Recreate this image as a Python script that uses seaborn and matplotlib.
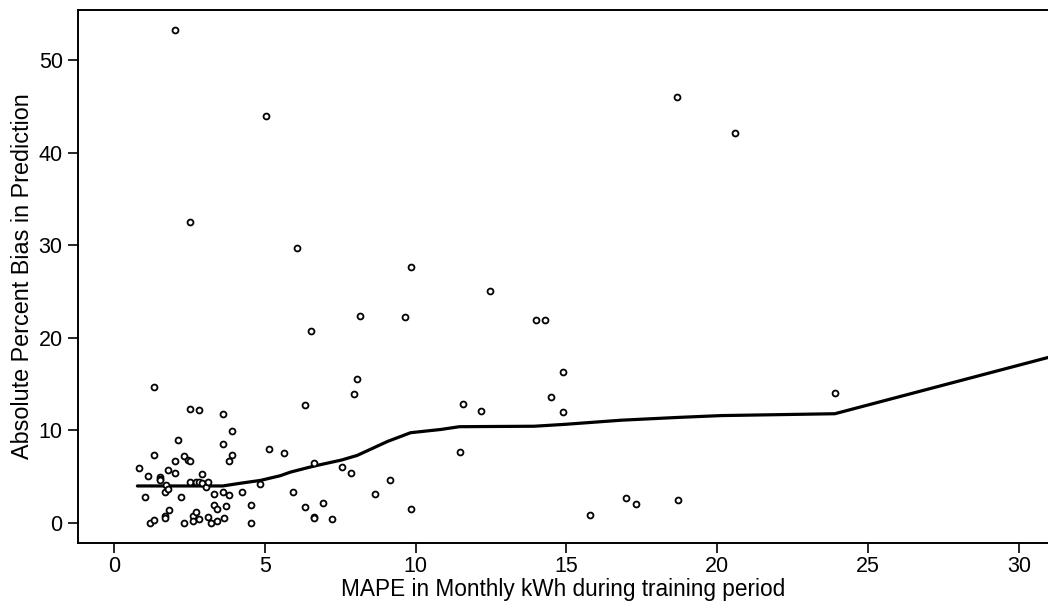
import matplotlib
matplotlib.use("Agg")
import matplotlib.pyplot as plt
import seaborn as sns
import pandas as pd

# Scatter data: MAPE (x) vs absolute percent bias (y)
mape = [0.81, 1.01, 1.11, 1.20, 1.31, 1.31, 1.31, 1.51, 1.51, 1.51,
        1.70, 1.70, 1.70, 1.73, 1.80, 1.80, 1.82, 2.02, 2.02, 2.02,
        2.12, 2.22, 2.30, 2.32, 2.44, 2.50, 2.50, 2.51, 2.52, 2.61,
        2.61, 2.71, 2.71, 2.81, 2.81, 2.81, 2.91, 2.91, 3.03, 3.12,
        3.12, 3.22, 3.32, 3.32, 3.41, 3.41, 3.61, 3.61, 3.62, 3.63,
        3.72, 3.81, 3.82, 3.92, 3.92, 4.23, 4.53, 4.53, 4.83, 5.03,
        5.13, 5.63, 5.94, 6.05, 6.34, 6.34, 6.53, 6.63, 6.63, 6.63,
        6.93, 7.23, 7.54, 7.84, 7.95, 8.05, 8.14, 8.65, 9.16, 9.65,
        9.86, 9.86, 11.46, 11.56, 12.16, 12.47, 13.98, 14.29, 14.49, 14.88,
        14.88, 15.79, 16.99, 17.30, 18.67, 18.69, 20.6, 23.92]
bias = [5.9, 2.8, 5.1, 0.0, 0.3, 7.3, 14.7, 5.0, 4.8, 4.6,
        3.3, 0.75, 0.55, 4.1, 3.7, 5.7, 1.4, 6.7, 5.4, 53.2,
        9.0, 2.8, 7.2, 0.0, 6.8, 4.4, 12.3, 32.5, 6.7, 0.8,
        0.25, 1.2, 4.4, 4.4, 12.2, 0.4, 5.3, 4.3, 3.9, 4.4,
        0.7, 0.0, 3.1, 1.9, 1.5, 0.25, 11.8, 8.5, 3.3, 0.5,
        1.8, 6.7, 3.0, 9.9, 7.3, 3.4, 1.9, 0.0, 4.2, 43.9,
        8.0, 7.6, 3.3, 29.7, 12.7, 1.7, 20.7, 6.5, 0.7, 0.5,
        2.2, 0.4, 6.05, 5.4, 13.9, 15.55, 22.35, 3.1, 4.6, 22.2,
        27.6, 1.5, 7.7, 12.8, 12.1, 25.05, 21.9, 21.9, 13.6, 16.3,
        12.0, 0.86, 2.67, 2.1, 46.0, 2.5, 42.1, 14.0]

# Smoothed (lowess) curve
fit_x = [0.77, 3.6, 4.2, 4.85, 5.5, 5.85, 6.63, 7.54, 8.06, 9.06,
         9.83, 10.83, 11.45, 13.93, 14.93, 16.81, 18.69, 20.13, 23.9, 31.2]
fit_y = [4.0, 4.0, 4.3, 4.6, 5.1, 5.5, 6.15, 6.8, 7.3, 8.8,
         9.75, 10.1, 10.4, 10.45, 10.65, 11.1, 11.4, 11.6, 11.8, 18.07]

x_ticks = [0, 5, 10, 15, 20, 25, 30]
y_ticks = [0, 10, 20, 30, 40, 50]

pts = pd.DataFrame({"mape": mape, "bias": bias})
fit = pd.DataFrame({"x": fit_x, "y": fit_y})

sns.set_theme(style="white")
plt.rcParams["font.family"] = ["Liberation Sans", "DejaVu Sans"]
plt.rcParams["text.color"] = "black"
plt.rcParams["axes.labelcolor"] = "black"
plt.rcParams["xtick.color"] = "black"
plt.rcParams["ytick.color"] = "black"

fig = plt.figure(figsize=(10.48, 6.07), dpi=100)
ax = fig.add_axes([78 / 1048, 1 - 543 / 607, 1 - 78 / 1048, (543 - 10) / 607])

sns.scatterplot(data=pts, x="mape", y="bias", ax=ax, s=18, marker="o",
                facecolor="white", edgecolor="black", linewidth=1.3, zorder=3)
sns.lineplot(data=fit, x="x", y="y", ax=ax, sort=False, estimator=None,
             color="black", linewidth=2.3, zorder=2)

ax.set_xlim(-1.2, 30.97)
ax.set_ylim(-2.16, 55.4)
ax.set_xticks(x_ticks)
ax.set_yticks(y_ticks)
ax.set_xticklabels([str(t) for t in x_ticks], fontsize=15.5)
ax.set_yticklabels([str(t) for t in y_ticks], fontsize=15.5)
ax.tick_params(axis="x", direction="out", length=7, width=1.2, color="black",
               labelcolor="black", bottom=True, pad=2)
ax.tick_params(axis="y", direction="out", length=7, width=1.2, color="black",
               labelcolor="black", left=True, pad=4)
ax.set_xlabel("MAPE in Monthly kWh during training period", fontsize=16.3,
              labelpad=1, color="black")
ax.set_ylabel("Absolute Percent Bias in Prediction", fontsize=16.8,
              labelpad=3, color="black")

for side in ["left", "bottom", "top"]:
    ax.spines[side].set_visible(True)
    ax.spines[side].set_color("black")
    ax.spines[side].set_linewidth(1.4)
ax.spines["right"].set_visible(False)

fig.savefig("out.png", dpi=100, facecolor="white")
